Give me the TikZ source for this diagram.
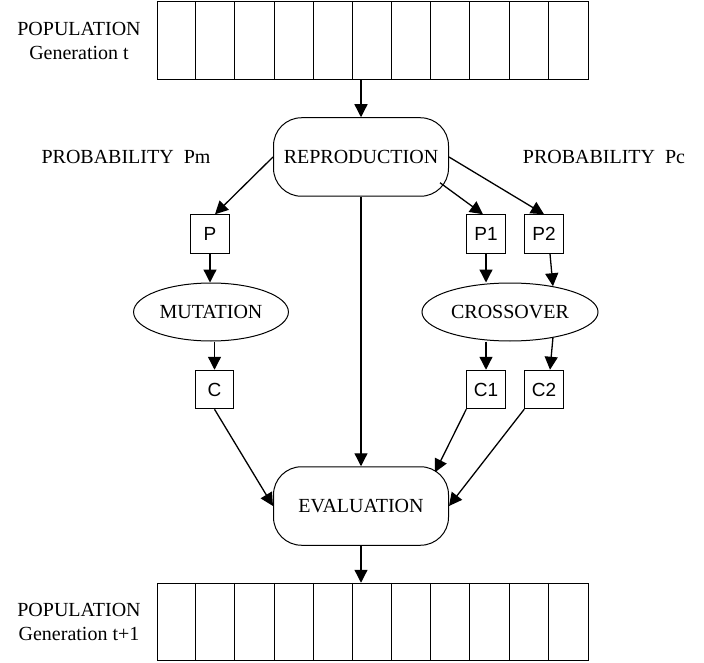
\documentclass[tikz,border=0pt]{standalone}
\usepackage{fontspec}
\setmainfont{Liberation Serif}
\newfontfamily\boxfont{Liberation Sans}
\usetikzlibrary{arrows.meta,shapes.geometric,calc}

\tikzset{
    every node/.style={font=\fontsize{20}{24}\selectfont},
    arr/.style={line width=1.3pt, -{Triangle[length=13pt,width=13pt]}},
    popbox/.style={draw, minimum width=431pt, minimum height=77.5pt, inner sep=0pt},
    stagebox/.style={draw, rounded corners=28pt, minimum width=175pt, minimum height=78.5pt},
    opnode/.style={draw, ellipse, minimum height=58pt},
    genebox/.style={draw, minimum size=38.5pt, inner sep=0pt, font=\boxfont\fontsize{19}{22}\selectfont},
}

\begin{document}
\begin{tikzpicture}[x=1pt, y=-1pt, line width=1pt]
    \useasboundingbox (0,0) rectangle (704,663);

    % Population at generation t
    \node[popbox] (popt) at (372.5,40.5) {};
    \foreach \i in {1,...,10}
        \draw ($(popt.north west)+(39.18*\i,0)$) -- ($(popt.south west)+(39.18*\i,0)$);
    \node[align=center] (poptlabel) at (79,41) {POPULATION\\Generation t};

    % Reproduction
    \node[stagebox] (repro) at (361,157) {REPRODUCTION};
    \node (probm) at (126,157) {PROBABILITY\ \ Pm};
    \node (probc) at (604,157) {PROBABILITY\ \ Pc};

    % Mutation branch
    \node[genebox] (p) at (210,234) {P};
    \node[opnode, minimum width=144pt] (mut) at (211,312) {MUTATION};
    \node[genebox] (c) at (214.5,389.5) {C};

    % Crossover branch
    \node[genebox] (p1) at (486,234) {P1};
    \node[genebox] (p2) at (544,234) {P2};
    \node[opnode, minimum width=146pt] (cross) at (510,312) {CROSSOVER};
    \node[genebox] (c1) at (486,389.5) {C1};
    \node[genebox] (c2) at (544,389.5) {C2};

    % Evaluation
    \node[stagebox] (eval) at (361,506) {EVALUATION};

    % Population at generation t+1
    \node[popbox] (popb) at (372.5,622) {};
    \foreach \i in {1,...,10}
        \draw ($(popb.north west)+(39.18*\i,0)$) -- ($(popb.south west)+(39.18*\i,0)$);
    \node[align=center] (popblabel) at (79,622) {POPULATION\\Generation t+1};

    % Arrows
    \draw[arr] (popt.south -| repro.north) -- (repro.north);
    \draw[arr] (repro.west) -- ([xshift=5pt]p.north);
    \draw[arr] (repro.east) -- (p2.north);
    \draw[arr] ($(repro.south east)+(-9,-14)$) -- ([xshift=-3pt]p1.north);
    \draw[arr] (repro.south) -- (eval.north);

    \draw[arr] (p.south) -- (p.south |- mut.north);
    \draw[arr] (c.north |- mut.south) -- (c.north);
    \draw[arr] (p1.south) -- (p1.south |- cross.north);
    \draw[arr] ([xshift=6pt]p2.south) -- (cross.31);
    \draw[arr] (c1.north |- cross.south) -- (c1.north);
    \draw[arr] (cross.-31) -- ([xshift=6pt]c2.north);

    \draw[arr] (c.south) -- (eval.west);
    \draw[arr] (c1.south west) -- ($(eval.north east)+(-14,6)$);
    \draw[arr] (c2.south west) -- (eval.east);
    \draw[arr] (eval.south) -- (eval.south |- popb.north);
\end{tikzpicture}
\end{document}
